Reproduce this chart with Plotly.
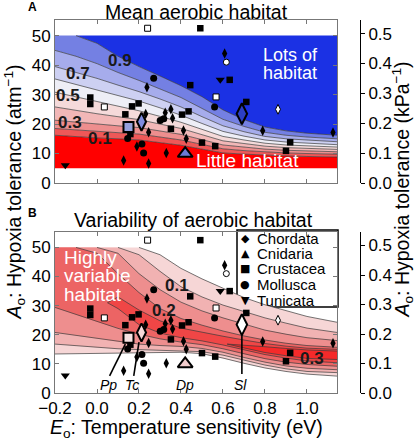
import plotly.graph_objects as go

# ---------------- data ----------------
E_GRID = [-0.2, -0.1, 0.0, 0.1, 0.2, 0.3, 0.4, 0.5, 0.6, 0.7, 0.8, 0.9, 1.0, 1.143]
DOMAIN_LO = 5
DOMAIN_HI = 50

# Panel A: mean aerobic habitat contour lines (A_o at each E_GRID value)
mean_c01 = [16.2, 15.7, 15.3, 15.0, 14.6, 13.7, 12.8, 11.5, 10.2, 9.8, 9.4, 9.2, 9.0, 8.8]
mean_c02 = [18.5, 18.0, 17.5, 17.0, 16.6, 15.6, 14.6, 13.1, 11.6, 11.0, 10.5, 10.2, 10.0, 9.8]
mean_c03 = [21.3, 20.6, 20.0, 19.4, 18.8, 17.7, 16.5, 14.7, 12.9, 12.2, 11.5, 11.1, 10.9, 10.6]
mean_c04 = [25.8, 24.6, 23.5, 22.5, 21.5, 20.0, 18.5, 16.4, 14.3, 13.4, 12.5, 12.0, 11.8, 11.4]
mean_c05 = [30.8, 29.2, 27.5, 26.0, 24.5, 22.6, 20.6, 18.2, 15.8, 14.6, 13.5, 12.9, 12.6, 12.2]
mean_c06 = [35.3, 33.4, 31.5, 29.6, 27.8, 25.5, 23.0, 20.2, 17.5, 15.9, 14.6, 13.9, 13.5, 13.0]
mean_c07 = [39.5, 37.5, 35.5, 33.2, 31.0, 28.5, 25.8, 22.5, 19.4, 17.4, 15.8, 15.0, 14.5, 14.0]
mean_c08 = [45.0, 43.0, 40.5, 37.5, 34.8, 32.0, 29.0, 25.3, 21.6, 19.2, 17.2, 16.2, 15.6, 15.0]
mean_c09 = [50.0, 50.0, 47.4, 43.0, 39.5, 36.3, 33.0, 29.3, 24.8, 21.5, 19.0, 17.7, 16.9, 16.2]

# Panel B: variability contours, upper and lower branches
var_c05_up = [50, 50, 50, 50, 50, 47.5, 42.8, 39.2, 36.0, 32.8, 30.3, 28.2, 26.3, 24.3]
var_c05_dn = [13.4, 13.5, 13.6, 13.7, 13.8, 13.9, 14.0, 13.5, 12.0, 10.2, 8.6, 7.4, 6.5, 5.8]
var_c10_up = [50, 50, 50, 50, 47.5, 41.8, 36.5, 33.0, 30.2, 28.0, 25.8, 24.0, 22.3, 20.8]
var_c10_dn = [16.8, 16.2, 15.6, 15.2, 14.9, 14.7, 14.6, 14.2, 13.0, 11.2, 9.6, 8.3, 7.4, 7.0]
var_c15_up = [50, 50, 50, 48.0, 41.0, 35.5, 31.2, 28.2, 25.8, 23.6, 21.6, 20.2, 19.0, 18.0]
var_c15_dn = [20.8, 19.8, 18.6, 17.6, 16.8, 16.3, 16.0, 15.3, 14.0, 12.2, 10.6, 9.3, 8.5, 8.0]
var_c20_up = [50, 50, 48.0, 41.0, 34.5, 29.0, 25.6, 23.3, 21.3, 19.6, 18.2, 17.1, 16.3, 15.7]
var_c20_dn = [29.4, 27.0, 24.5, 22.2, 20.2, 18.6, 17.5, 16.6, 15.2, 13.4, 11.8, 10.6, 9.8, 9.2]
var_c25_e = [0.05, 0.1, 0.2, 0.3, 0.4, 0.5, 0.6, 0.7, 0.8, 0.9, 1.0, 1.143]
var_c25_up = [31.0, 33.0, 28.5, 24.8, 22.3, 20.8, 19.5, 18.2, 17.0, 16.1, 15.4, 15.0]
var_c25_dn = [31.0, 29.0, 23.5, 20.6, 19.0, 17.9, 16.5, 14.8, 13.2, 12.0, 11.0, 10.4]
var_c30_e = [0.62, 0.7, 0.8, 0.9, 1.0, 1.143]
var_c30_up = [16.8, 16.5, 15.9, 15.3, 14.8, 14.4]
var_c30_dn = [16.8, 15.4, 13.9, 12.8, 11.9, 11.5]

# species points (E_o, A_o)
chordata_e = [0.238, 0.232, 0.246, 0.19, 0.127, 0.246, 0.33, 0.325, 0.352, 0.36, 0.412, 0.425, 0.608, 0.789, 1.124]
chordata_a = [32.5, 23.4, 17.2, 12.4, 7.6, 6.6, 10.2, 23.8, 25.0, 22.0, 17.8, 15.0, 43.9, 17.7, 17.1]
crustacea_e = [-0.032, -0.032, 0.135, 0.167, 0.198, 0.159, 0.352, 0.405, 0.436, 0.444, 0.492, 0.5, 0.563, 0.632, 0.711, 0.92, 0.9]
crustacea_a = [29.0, 26.8, 23.3, 26.0, 27.0, 16.6, 18.4, 23.2, 24.3, 33.2, 52.5, 13.7, 12.5, 35.0, 27.5, 13.8, 10.9]
mollusca_e = [0.27, 0.146, 0.214, 0.222, 0.301, 0.318, 0.56]
mollusca_a = [35.5, 15.1, 13.2, 10.2, 21.2, 21.8, 25.8]
tunicata_e = [-0.151, 0.587]
tunicata_a = [6.0, 35.0]
open_sq_e = [0.035, 0.241, 0.567]
open_sq_a = [25.8, 52.5, 29.2]
open_circ_e = [0.616]
open_circ_a = [41.0]
open_dia_e = [0.862]
open_dia_a = [25.0]

# highlighted species
hl_names = ["Pp", "Tc", "Dp", "Sl"]
hl_e = [0.15, 0.212, 0.42, 0.69]
hl_a = [19.0, 20.8, 10.0, 23.5]
hl_fill_mean = ["#95a0dc", "#7f8ce0", "#6c7ad6", "#2c3fc4"]
hl_fill_var = ["#f6e2e2", "#f6d8d8", "#f2cccc", "#ffffff"]
hl_label_e = [0.055, 0.167, 0.42, 0.683]
hl_label_a = [2.6, 2.6, 2.6, 2.6]
leader_from_e = [0.135, 0.2, None, 0.69]
leader_from_a = [16.8, 17.5, None, 20.5]
leader_to_e = [0.06, 0.175, None, 0.69]
leader_to_a = [5.9, 5.9, None, 6.5]

legend_names = ["Chordata", "Cnidaria", "Crustacea", "Mollusca", "Tunicata"]
legend_glyphs = ["\u25c6", "\u25b2", "\u25a0", "\u25cf", "\u25bc"]

KPA_PER_ATM = 101.325

# ---------------- style ----------------
FONT = "Liberation Sans, Arial, sans-serif"
MEAN_COLORS = ["#ff0000", "#ee5858", "#ee8e8e", "#f2b7b7", "#f5dada",
               "#eeeef6", "#cdd0f2", "#a6acec", "#7480e3", "#1b31e4"]
VAR_COLORS = ["#f6d6d6", "#f1b2b2", "#ee8e8e", "#ec6464", "#f04646", "#f52a2a"]
LINE_C = "#3a3a3a"
YMAX = 55.3
XR = [-0.2, 1.143]

W, H = 415, 440
ML, MT, MR, MB = 55, 20, 45, 47
PW, PH = W - ML - MR, H - MT - MB  # 315, 373


def fx(px):  # page pixel -> paper x
    return (px - ML) / PW


def fy(py):  # page pixel -> paper y
    return (H - MB - py) / PH


fig = go.Figure()


def masked(ys, hi=DOMAIN_HI):
    out = []
    n = len(ys)
    for i, v in enumerate(ys):
        if v >= hi:
            keep = (i > 0 and ys[i - 1] < hi) or (i < n - 1 and ys[i + 1] < hi)
            out.append(v if keep else None)
        else:
            out.append(v)
    return out


# ---- panel A fills ----
mean_lines = [mean_c01, mean_c02, mean_c03, mean_c04, mean_c05,
              mean_c06, mean_c07, mean_c08, mean_c09]
fig.add_trace(go.Scatter(x=E_GRID, y=[DOMAIN_LO] * len(E_GRID), mode="lines",
                         line=dict(width=0), xaxis="x", yaxis="y",
                         showlegend=False, hoverinfo="skip"))
for i, ln in enumerate(mean_lines):
    fig.add_trace(go.Scatter(x=E_GRID, y=ln, mode="lines", line=dict(width=0),
                             fill="tonexty", fillcolor=MEAN_COLORS[i],
                             xaxis="x", yaxis="y", showlegend=False, hoverinfo="skip"))
fig.add_trace(go.Scatter(x=E_GRID, y=[DOMAIN_HI] * len(E_GRID), mode="lines",
                         line=dict(width=0), fill="tonexty", fillcolor=MEAN_COLORS[9],
                         xaxis="x", yaxis="y", showlegend=False, hoverinfo="skip"))
for ln in mean_lines:
    fig.add_trace(go.Scatter(x=E_GRID, y=masked(ln), mode="lines",
                             line=dict(width=0.7, color=LINE_C),
                             xaxis="x", yaxis="y", showlegend=False, hoverinfo="skip"))

# ---- panel B fills ----
var_sets = [
    (E_GRID, var_c05_up, var_c05_dn),
    (E_GRID, var_c10_up, var_c10_dn),
    (E_GRID, var_c15_up, var_c15_dn),
    (E_GRID, var_c20_up, var_c20_dn),
    (var_c25_e, var_c25_up, var_c25_dn),
    (var_c30_e, var_c30_up, var_c30_dn),
]
for i, (xs, up, dn) in enumerate(var_sets):
    fig.add_trace(go.Scatter(x=list(xs) + list(xs)[::-1], y=list(up) + list(dn)[::-1],
                             mode="lines", line=dict(width=0), fill="toself",
                             fillcolor=VAR_COLORS[i], xaxis="x2", yaxis="y2",
                             showlegend=False, hoverinfo="skip"))
for xs, up, dn in var_sets:
    fig.add_trace(go.Scatter(x=list(xs) + [None] + list(xs), y=masked(up) + [None] + list(dn),
                             mode="lines", line=dict(width=0.7, color=LINE_C),
                             xaxis="x2", yaxis="y2", showlegend=False, hoverinfo="skip"))

# leader lines panel B
for i in range(len(hl_names)):
    if leader_from_e[i] is None:
        continue
    fig.add_trace(go.Scatter(x=[leader_from_e[i], leader_to_e[i]],
                             y=[leader_from_a[i], leader_to_a[i]], mode="lines",
                             line=dict(width=1.6, color="black"), xaxis="x2", yaxis="y2",
                             showlegend=False, hoverinfo="skip"))


# ---- markers for both panels ----
def add_points(xa, ya, hl_fill):
    common = dict(mode="markers", xaxis=xa, yaxis=ya, showlegend=False, hoverinfo="skip")
    fig.add_trace(go.Scatter(x=chordata_e, y=chordata_a,
                             marker=dict(symbol="diamond-tall", size=7.5, color="black"), **common))
    fig.add_trace(go.Scatter(x=crustacea_e, y=crustacea_a,
                             marker=dict(symbol="square", size=6.5, color="black"), **common))
    fig.add_trace(go.Scatter(x=mollusca_e, y=mollusca_a,
                             marker=dict(symbol="circle", size=7, color="black"), **common))
    fig.add_trace(go.Scatter(x=tunicata_e, y=tunicata_a,
                             marker=dict(symbol="triangle-down", size=8, color="black"), **common))
    wl = dict(color="black", width=1)
    fig.add_trace(go.Scatter(x=open_sq_e, y=open_sq_a,
                             marker=dict(symbol="square", size=6, color="white", line=wl), **common))
    fig.add_trace(go.Scatter(x=open_circ_e, y=open_circ_a,
                             marker=dict(symbol="circle", size=6, color="white", line=wl), **common))
    fig.add_trace(go.Scatter(x=open_dia_e, y=open_dia_a,
                             marker=dict(symbol="diamond-tall", size=7, color="white", line=wl), **common))
    syms = ["square", "diamond-tall", "triangle-up", "diamond-tall"]
    sizes = [10, 13, 13, 15]
    for i in range(len(hl_names)):
        fig.add_trace(go.Scatter(x=[hl_e[i]], y=[hl_a[i]],
                                 marker=dict(symbol=syms[i], size=sizes[i], color=hl_fill[i],
                                             line=dict(color="black", width=2)), **common))


add_points("x", "y", hl_fill_mean)
add_points("x2", "y2", hl_fill_var)

# invisible traces for the right-hand kPa axes
fig.add_trace(go.Scatter(x=[XR[0]], y=[0], mode="markers", marker=dict(opacity=0),
                         xaxis="x", yaxis="y3", showlegend=False, hoverinfo="skip"))
fig.add_trace(go.Scatter(x=[XR[0]], y=[0], mode="markers", marker=dict(opacity=0),
                         xaxis="x2", yaxis="y4", showlegend=False, hoverinfo="skip"))

# ---------------- layout ----------------
XDOM = [0, fx(337)]
YDOM_A = [fy(183), 1.0]
YDOM_B = [0.0, fy(232)]
frame = dict(showline=True, linecolor="#777", linewidth=1, mirror="ticks", ticks="inside",
             ticklen=4, tickcolor="#777", showgrid=False, zeroline=False,
             tickfont=dict(size=17, color="black", family=FONT))
xt = dict(tickvals=[-0.2, 0, 0.2, 0.4, 0.6, 0.8, 1.0],
          ticktext=["\u22120.2", "0.0", "0.2", "0.4", "0.6", "0.8", "1.0"])
yt = dict(tickvals=[0, 10, 20, 30, 40, 50])
right = dict(showline=True, linecolor="black", linewidth=1, ticks="outside", ticklen=4,
             tickcolor="black", side="right", anchor="free", position=fx(360),
             range=[0, YMAX / KPA_PER_ATM], tickvals=[0, 0.1, 0.2, 0.3, 0.4, 0.5],
             ticktext=["0.0", "0.1", "0.2", "0.3", "0.4", "0.5"], showgrid=False,
             zeroline=False, tickfont=dict(size=17, color="black", family=FONT))

fig.update_layout(
    width=W, height=H,
    margin=dict(l=ML, r=MR, t=MT, b=MB),
    paper_bgcolor="white", plot_bgcolor="white",
    font=dict(family=FONT, color="black"),
    xaxis=dict(domain=XDOM, anchor="y", range=XR, showticklabels=False, **xt, **frame),
    yaxis=dict(domain=YDOM_A, anchor="x", range=[0, YMAX], **yt, **frame),
    xaxis2=dict(domain=XDOM, anchor="y2", range=XR, **xt, **frame),
    yaxis2=dict(domain=YDOM_B, anchor="x2", range=[0, YMAX], **yt, **frame),
    yaxis3=dict(overlaying="y", **right),
    yaxis4=dict(overlaying="y2", **right),
    showlegend=False,
)

ann = []


def txt(text, x, y, xref, yref, size, color="black", bold=False, italic=False,
        family=FONT, xanchor="center", yanchor="middle", **kw):
    t = text
    if bold:
        t = "<b>" + t + "</b>"
    if italic:
        t = "<i>" + t + "</i>"
    ann.append(dict(text=t, x=x, y=y, xref=xref, yref=yref, showarrow=False,
                    xanchor=xanchor, yanchor=yanchor,
                    font=dict(size=size, color=color, family=family), **kw))


# titles
txt("Mean aerobic habitat", fx(196), fy(11.5), "paper", "paper", 19.5)
txt("Variability of aerobic habitat", fx(193), fy(220), "paper", "paper", 19.5)
txt("A", fx(32), fy(7), "paper", "paper", 12, bold=True)
txt("B", fx(32), fy(213), "paper", "paper", 12, bold=True)
# axis titles
txt("<i>A</i><sub>o</sub>: Hypoxia tolerance (atm<sup>\u22121</sup>)", fx(13.5), fy(192),
    "paper", "paper", 19.5, textangle=-90)
txt("<i>A</i><sub>o</sub>: Hypoxia tolerance (kPa<sup>\u22121</sup>)", fx(401.5), fy(190),
    "paper", "paper", 19.5, textangle=-90)
txt("<i>E</i><sub>o</sub>: Temperature sensitivity (eV)", fx(186), fy(428),
    "paper", "paper", 19.5)
# panel A texts
txt("Lots of", 0.92, 43.4, "x", "y", 18, color="white")
txt("habitat", 0.92, 37.2, "x", "y", 18, color="white")
txt("Little habitat", 0.718, 7.7, "x", "y", 19, color="white")
for lab, ex, ay in [("0.9", 0.11, 41.7), ("0.7", -0.09, 37.3), ("0.5", -0.14, 29.8),
                    ("0.3", -0.127, 20.6), ("0.1", 0.016, 15.2)]:
    txt(lab, ex, ay, "x", "y", 17, color="#1a1a1a", bold=True)
# panel B texts
for line_txt, ay in [("Highly", 46.6), ("variable", 40.3), ("habitat", 34.0)]:
    txt(line_txt, -0.168, ay, "x2", "y2", 19, color="white", xanchor="left")
for lab, ex, ay in [("0.1", 0.38, 36.8), ("0.2", 0.317, 28.3), ("0.3", 1.024, 11.7)]:
    txt(lab, ex, ay, "x2", "y2", 17, color="#1a1a1a", bold=True)
for i, nm in enumerate(hl_names):
    txt(nm, hl_label_e[i], hl_label_a[i], "x2", "y2", 14, italic=True)

# legend box (panel B)
legend_rows_py = [238.3, 253.3, 268.3, 284.3, 300.0]
for i, nm in enumerate(legend_names):
    txt(legend_glyphs[i], fx(245), fy(legend_rows_py[i]), "paper", "paper", 11,
        family="DejaVu Sans")
    txt(nm, fx(255), fy(legend_rows_py[i]), "paper", "paper", 15, xanchor="left")

shapes = [dict(type="rect", xref="paper", yref="paper", x0=fx(237), x1=fx(338),
               y0=fy(307), y1=fy(230), line=dict(color="black", width=1.5),
               fillcolor="white", layer="below")]

fig.update_layout(annotations=ann, shapes=shapes)
fig.write_html("out.html", config={"displayModeBar": False},
               post_script="document.body.style.margin='0';"
                           "document.body.style.overflow='hidden';")
